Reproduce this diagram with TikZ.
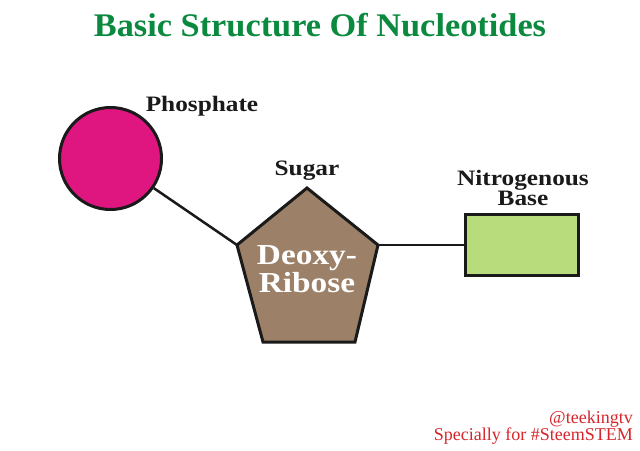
\documentclass[tikz,border=0pt]{standalone}
\usepackage{fontspec}
\setmainfont{Liberation Serif}
\newfontfamily\lblfont[FakeStretch=1.15]{Liberation Serif}
\newfontfamily\ttlfont[FakeStretch=1.04]{Liberation Serif}
\definecolor{titlegreen}{HTML}{0B8A3F}
\definecolor{phosfill}{HTML}{DF1580}
\definecolor{sugarfill}{HTML}{9C8168}
\definecolor{basefill}{HTML}{B8DB7B}
\definecolor{signred}{HTML}{D7262B}
\definecolor{outline}{HTML}{1A1A1A}
\tikzset{
  shapeline/.style={draw=outline, line width=3pt},
  connector/.style={draw=outline, line width=2.5pt},
  lbl/.style={font=\lblfont\bfseries\fontsize{22}{20}\selectfont, text=outline, inner sep=0pt, align=center},
}
\begin{document}
\begin{tikzpicture}[x=1pt,y=-1pt]
\useasboundingbox (0,0) rectangle (640,450);
\fill[white] (0,0) rectangle (640,450);
% title
\node[font=\ttlfont\bfseries\fontsize{33}{36}\selectfont, text=titlegreen, inner sep=0pt] (title) at (320,25) {Basic Structure Of Nucleotides};
% pentagon coordinates
\coordinate (pt) at (307,188);
\coordinate (pl) at (237,245);
\coordinate (pr) at (378,245);
\coordinate (pbr) at (355,342);
\coordinate (pbl) at (263,342);
% shapes
\node[circle, shapeline, fill=phosfill, minimum size=102pt, inner sep=0pt] (phos) at (110.5,158.5) {};
\node[rectangle, shapeline, fill=basefill, minimum width=113pt, minimum height=61pt, inner sep=0pt] (base) at (522,245) {};
\draw[connector] (phos) -- (pl);
\draw[connector] (pr) -- (base);
\filldraw[shapeline, fill=sugarfill, line join=miter] (pt) -- (pr) -- (pbr) -- (pbl) -- (pl) -- cycle;
\node[font=\lblfont\bfseries\fontsize{29}{25}\selectfont, text=white, align=center, inner sep=0pt] (sugartext) at (307,269) {Deoxy-\\Ribose};
% labels
\node[lbl] (phoslbl) at (202,106) {Phosphate};
\node[lbl] (sugarlbl) at (307,171) {Sugar};
\node[lbl] (baselbl) at (523,188) {Nitrogenous\\Base};
% signature
\node[font=\fontsize{18}{17}\selectfont, text=signred, align=right, anchor=south east, inner sep=0pt] (sign) at (633,445) {@teekingtv\\Specially for \#SteemSTEM};
\end{tikzpicture}
\end{document}
